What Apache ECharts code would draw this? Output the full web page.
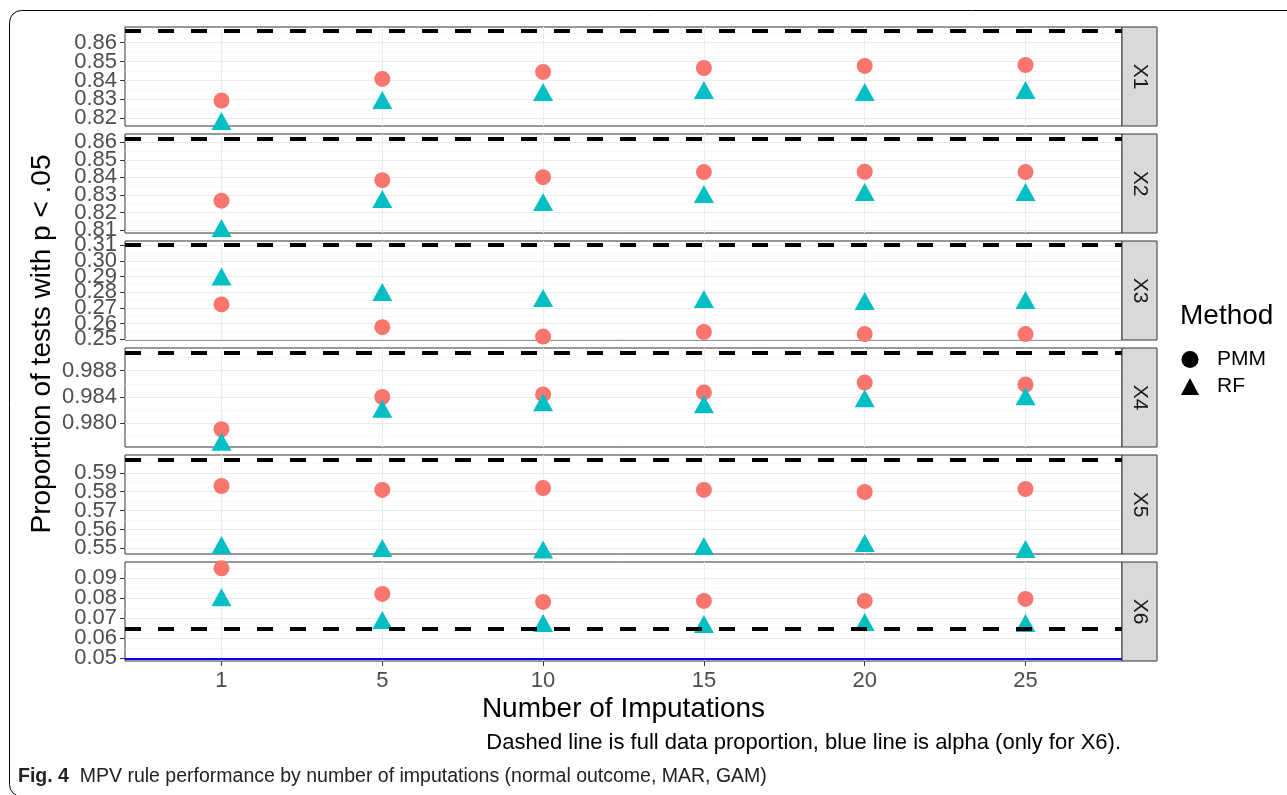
<!DOCTYPE html>
<html><head><meta charset="utf-8">
<script src="https://cdn.jsdelivr.net/npm/echarts@6/dist/echarts.min.js"></script>
<style>html,body{margin:0;padding:0;background:#fff}#c{width:1287px;height:795px}</style>
</head><body><div id="c"></div>
<script>
// ---- data ----
const imputations = ['1', '5', '10', '15', '20', '25'];
const panels = ['X1', 'X2', 'X3', 'X4', 'X5', 'X6'];

const pmmX1 = [0.8294, 0.8408, 0.8445, 0.8466, 0.8477, 0.8482];
const pmmX2 = [0.8267, 0.8384, 0.8401, 0.8430, 0.8432, 0.8430];
const pmmX3 = [0.2723, 0.2578, 0.2518, 0.2547, 0.2534, 0.2534];
const pmmX4 = [0.9791, 0.9840, 0.9844, 0.9847, 0.9862, 0.9859];
const pmmX5 = [0.5830, 0.5809, 0.5819, 0.5809, 0.5798, 0.5814];
const pmmX6 = [0.0950, 0.0822, 0.0782, 0.0787, 0.0787, 0.0797];

const rfX1 = [0.8186, 0.8297, 0.8339, 0.8350, 0.8339, 0.8350];
const rfX2 = [0.8111, 0.8276, 0.8259, 0.8305, 0.8316, 0.8316];
const rfX3 = [0.2900, 0.2802, 0.2764, 0.2757, 0.2745, 0.2751];
const rfX4 = [0.9772, 0.9822, 0.9832, 0.9829, 0.9838, 0.9841];
const rfX5 = [0.5517, 0.5502, 0.5494, 0.5512, 0.5528, 0.5496];
const rfX6 = [0.0805, 0.0692, 0.0677, 0.0672, 0.0682, 0.0677];

const fullDataProportion = [0.8662, 0.8619, 0.3100, 0.9907, 0.5967, 0.0647];
const alphaX6 = 0.05;

const yLimits = [[0.8159, 0.8683], [0.8083, 0.8647], [0.2496, 0.3127],
                 [0.9764, 0.99145], [0.5470, 0.5994], [0.04865, 0.09817]];

const yTicksX1 = ['0.82', '0.83', '0.84', '0.85', '0.86'];
const yTicksX2 = ['0.81', '0.82', '0.83', '0.84', '0.85', '0.86'];
const yTicksX3 = ['0.25', '0.26', '0.27', '0.28', '0.29', '0.30', '0.31'];
const yTicksX4 = ['0.980', '0.984', '0.988'];
const yTicksX5 = ['0.55', '0.56', '0.57', '0.58', '0.59'];
const yTicksX6 = ['0.05', '0.06', '0.07', '0.08', '0.09'];

const yMinorX1 = [0.825, 0.835, 0.845, 0.855, 0.865];
const yMinorX2 = [0.815, 0.825, 0.835, 0.845, 0.855];
const yMinorX3 = [0.255, 0.265, 0.275, 0.285, 0.295, 0.305];
const yMinorX4 = [0.978, 0.982, 0.986, 0.990];
const yMinorX5 = [0.555, 0.565, 0.575, 0.585, 0.595];
const yMinorX6 = [0.055, 0.065, 0.075, 0.085, 0.095];

const pmm = [pmmX1, pmmX2, pmmX3, pmmX4, pmmX5, pmmX6];
const rf = [rfX1, rfX2, rfX3, rfX4, rfX5, rfX6];
const yTicks = [yTicksX1, yTicksX2, yTicksX3, yTicksX4, yTicksX5, yTicksX6];
const yMinor = [yMinorX1, yMinorX2, yMinorX3, yMinorX4, yMinorX5, yMinorX6];

// ---- layout / style ----
const FONT = '"Liberation Sans", Arial, Helvetica, sans-serif';
const PL = 125, PR = 1122, PH = 99, PTOP = 27, PSTEP = 107, STRIPW = 35;
const xPositions = imputations.map((_, k) => k + 1);
const N = panels.length;

const grids = [], xAxes = [], yAxes = [], series = [], graphics = [];

function majorAxis(i, parity) {
  const labels = yTicks[i].filter((_, k) => k % 2 === parity);
  const vals = labels.map(Number);
  return {
    gridIndex: i, type: 'value', min: yLimits[i][0], max: yLimits[i][1], position: 'left', offset: 0,
    axisLine: { show: false },
    axisTick: { show: true, customValues: vals, length: 5, lineStyle: { color: '#333333', width: 1 } },
    axisLabel: { customValues: vals, hideOverlap: false, showMinLabel: true, showMaxLabel: true,
      formatter: v => { const j = vals.findIndex(t => Math.abs(t - v) < 1e-9); return j >= 0 ? labels[j] : ''; },
      fontSize: 22, color: '#4D4D4D', fontFamily: FONT, margin: 8 },
    splitLine: { show: true, lineStyle: { color: '#EBEBEB', width: 1 } }
  };
}

panels.forEach((p, i) => {
  const top = PTOP + PSTEP * i;
  grids.push({ left: PL, width: PR - PL, top: top, height: PH, show: true,
    borderColor: '#333333', borderWidth: 1, backgroundColor: '#ffffff', outerBoundsMode: 'none' });
  const last = i === N - 1;
  xAxes.push({
    gridIndex: i, type: 'value', min: 0.4, max: 6.6,
    axisLine: { show: false },
    axisTick: { show: last, customValues: xPositions, length: 5, lineStyle: { color: '#333333', width: 1 } },
    axisLabel: { show: last, customValues: xPositions, formatter: v => imputations[Math.round(v) - 1],
      hideOverlap: false, showMinLabel: true, showMaxLabel: true,
      fontSize: 22, color: '#4D4D4D', fontFamily: FONT, margin: 9 },
    splitLine: { show: true, lineStyle: { color: '#EBEBEB', width: 1 } }
  });
  yAxes[i] = majorAxis(i, 0);
  yAxes[N + i] = majorAxis(i, 1);
  yAxes[2 * N + i] = {
    gridIndex: i, type: 'value', min: yLimits[i][0], max: yLimits[i][1], position: 'right',
    axisLine: { show: false }, axisLabel: { show: false },
    axisTick: { show: false, customValues: yMinor[i] },
    splitLine: { show: true, lineStyle: { color: '#F2F2F2', width: 0.6 } }
  };
  series.push({
    type: 'scatter', name: 'PMM', xAxisIndex: i, yAxisIndex: i, z: 3,
    data: pmm[i].map((v, k) => [xPositions[k], v]),
    symbol: 'circle', symbolSize: 16, itemStyle: { color: '#F8766D', opacity: 1 },
    markLine: {
      silent: true, symbol: ['none', 'none'], label: { show: false }, animation: false, precision: 10,
      lineStyle: { color: '#000000', width: 4, type: [16, 17] },
      data: last
        ? [{ yAxis: fullDataProportion[i] }, { yAxis: alphaX6, lineStyle: { color: '#0000FF', width: 2, type: 'solid' } }]
        : [{ yAxis: fullDataProportion[i] }]
    }
  });
  series.push({
    type: 'scatter', name: 'RF', xAxisIndex: i, yAxisIndex: i, z: 3,
    data: rf[i].map((v, k) => [xPositions[k], v]),
    symbol: 'triangle', symbolSize: [20, 18], itemStyle: { color: '#00BFC4', opacity: 1 }
  });
  // strip
  graphics.push({ type: 'rect', shape: { x: PR, y: top, width: STRIPW, height: PH },
    style: { fill: '#D9D9D9', stroke: '#333333', lineWidth: 1 }, z: 10 });
  graphics.push({ type: 'text', x: PR + STRIPW / 2, y: top + PH / 2, rotation: -Math.PI / 2, z: 11,
    style: { text: p, fontSize: 21, fontFamily: FONT, fill: '#1A1A1A', textAlign: 'center', textVerticalAlign: 'middle' } });
});

// texts
graphics.push({ type: 'rect', shape: { x: 9.5, y: 10.5, width: 1400, height: 786, r: 12 },
  style: { fill: 'none', stroke: '#000000', lineWidth: 1 }, z: 0 });
graphics.push({ type: 'text', x: 42, y: 344, rotation: Math.PI / 2,
  style: { text: 'Proportion of tests with p < .05', fontSize: 28, fontFamily: FONT, fill: '#000', textAlign: 'center', textVerticalAlign: 'middle' } });
graphics.push({ type: 'text', x: (PL + PR) / 2, y: 709,
  style: { text: 'Number of Imputations', fontSize: 28, fontFamily: FONT, fill: '#000', textAlign: 'center', textVerticalAlign: 'middle' } });
graphics.push({ type: 'text', x: 1121, y: 743,
  style: { text: 'Dashed line is full data proportion, blue line is alpha (only for X6).', fontSize: 22, fontFamily: FONT, fill: '#000', textAlign: 'right', textVerticalAlign: 'middle' } });
graphics.push({ type: 'text', x: 1180, y: 316,
  style: { text: 'Method', fontSize: 28, fontFamily: FONT, fill: '#000', textAlign: 'left', textVerticalAlign: 'middle' } });
graphics.push({ type: 'text', x: 18, y: 777,
  style: { text: '{b|Fig. 4}  MPV rule performance by number of imputations (normal outcome, MAR, GAM)',
    fontSize: 19.5, fontFamily: FONT, fill: '#222', textVerticalAlign: 'middle',
    rich: { b: { fontWeight: 'bold', fontSize: 19.5, fontFamily: FONT, fill: '#222' } } } });

const chart = echarts.init(document.getElementById('c'), null, { renderer: 'canvas' });
chart.setOption({
  animation: false,
  backgroundColor: '#ffffff',
  grid: grids, xAxis: xAxes, yAxis: yAxes, series: series,
  legend: {
    data: [{ name: 'PMM', icon: 'circle', itemStyle: { color: '#000' } },
           { name: 'RF', icon: 'triangle', itemStyle: { color: '#000' } }],
    orient: 'vertical', left: 1176, top: 344, itemWidth: 18, itemHeight: 17, itemGap: 6,
    selectedMode: false,
    textStyle: { fontSize: 21, color: '#000', fontFamily: FONT, padding: [0, 0, 0, 13] }
  },
  graphic: graphics
});
</script>
</body></html>
